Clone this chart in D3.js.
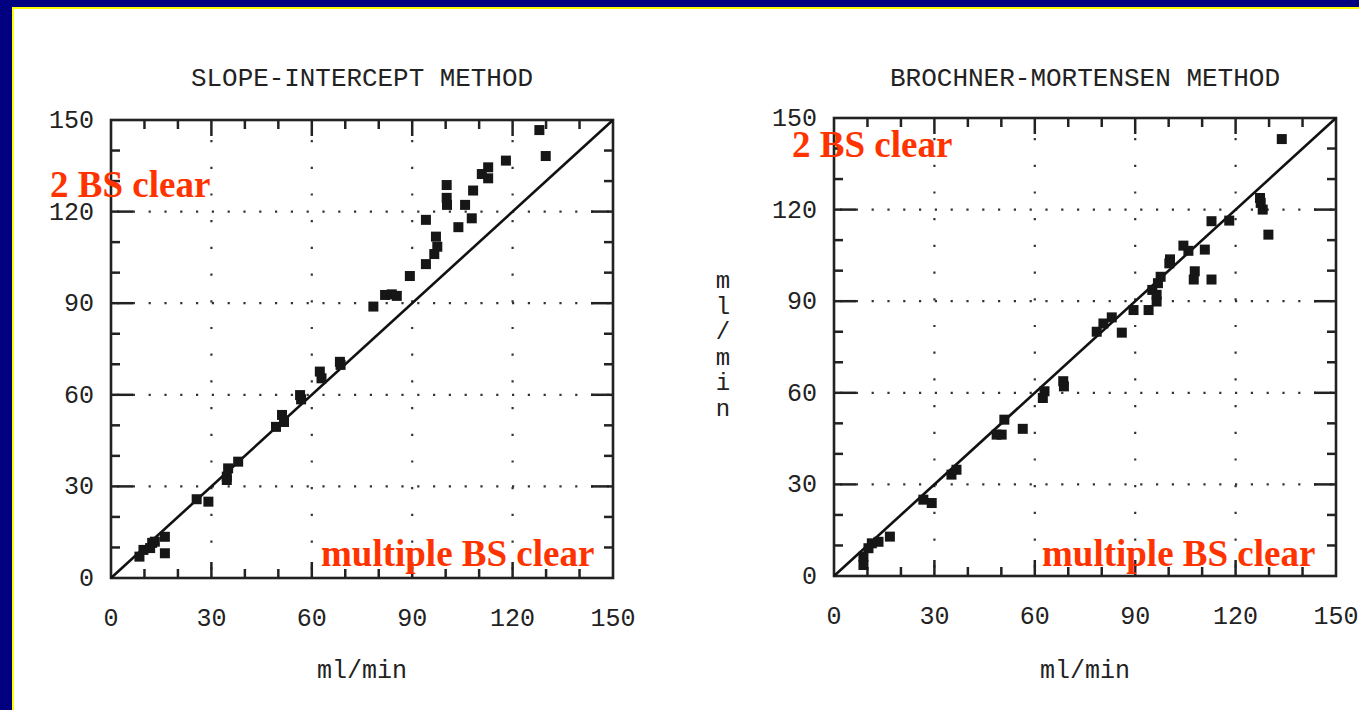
<!DOCTYPE html>
<html>
<head>
<meta charset="utf-8">
<script src="https://cdn.jsdelivr.net/npm/d3@7"></script>
<style>
  html, body { margin: 0; padding: 0; background: #000080; }
  svg { display: block; }
</style>
</head>
<body>
<svg id="chart" width="1359" height="710"></svg>
<script>
// data (x = reference GFR, y = method GFR, ml/min)
const ticks = [0, 30, 60, 90, 120, 150];
const gridVals = [30, 60, 90, 120];

const slopeX = [128.0, 129.9, 118.0, 112.7, 110.8, 112.7, 108.2, 100.3, 100.3, 100.4, 105.8, 107.8,
  103.8, 94.1, 97.1, 97.5, 96.6, 94.1, 89.3, 81.9, 83.9, 85.4, 78.4,
  68.4, 68.6, 62.4, 62.9, 56.5, 56.8, 51.1, 49.3, 51.7, 38.0, 35.0, 34.6, 34.6,
  25.6, 29.1, 16.1, 13.1, 12.3, 16.1, 9.7, 8.5, 11.7];
const slopeY = [146.7, 138.2, 136.7, 134.5, 132.3, 130.9, 126.9, 128.7, 124.5, 122.2, 122.2, 117.8,
  114.9, 117.3, 111.8, 108.5, 106.1, 102.8, 98.9, 92.7, 92.9, 92.4, 88.9,
  70.8, 69.8, 67.6, 65.4, 59.9, 58.5, 53.4, 49.5, 51.1, 38.1, 35.9, 33.2, 32.1,
  25.8, 25.0, 13.5, 11.9, 11.5, 8.1, 9.2, 7.0, 9.8];

const bmX = [133.8, 127.3, 127.5, 128.1, 129.8, 118.1, 112.8, 110.8, 107.8, 107.5, 112.8, 104.4,
  105.9, 100.4, 100.2, 97.6, 96.8, 95.1, 96.4, 96.4, 94.0, 89.5, 86.0, 83.0, 80.5, 78.5,
  68.5, 68.7, 62.9, 62.4, 56.4, 50.9, 50.1, 48.6, 36.6, 35.1, 26.7, 29.2,
  16.7, 13.3, 11.3, 10.3, 8.8, 8.8];
const bmY = [143.1, 123.8, 122.2, 120.0, 111.8, 116.4, 116.2, 106.9, 99.8, 97.1, 97.1, 108.2,
  106.5, 103.7, 102.4, 98.0, 95.9, 93.7, 92.1, 89.9, 87.1, 87.1, 79.7, 84.7, 82.7, 80.0,
  63.8, 62.1, 60.5, 58.3, 48.2, 51.2, 46.3, 46.3, 34.8, 33.2, 25.0, 23.9,
  12.9, 11.2, 10.7, 9.1, 6.3, 3.6];

const svg = d3.select("#chart");
const mono = "'Liberation Mono', 'DejaVu Sans Mono', monospace";
const serif = "'Liberation Serif', 'Times New Roman', serif";
const red = "#ff3300";
const ink = "#222";

// slide frame: navy border with a thin yellow rule, white page
svg.append("rect").attr("width", 1359).attr("height", 710).attr("fill", "#000080");
svg.append("rect")
  .attr("x", 13).attr("y", 8).attr("width", 1400).attr("height", 760)
  .attr("fill", "#fff").attr("stroke", "#ffff00").attr("stroke-width", 2);

function panel(opts) {
  const x = d3.scaleLinear().domain([0, 150]).range([opts.left, opts.right]);
  const y = d3.scaleLinear().domain([0, 150]).range([opts.bottom, opts.top]);
  const g = svg.append("g");

  // dotted grid
  g.selectAll(".hgrid").data(gridVals).join("line")
    .attr("x1", x(0)).attr("x2", x(150))
    .attr("y1", d => y(d)).attr("y2", d => y(d))
    .attr("stroke", "#333").attr("stroke-width", 2.2)
    .attr("stroke-dasharray", "2.2,13.6").attr("stroke-dashoffset", -6);
  g.selectAll(".vgrid").data(gridVals).join("line")
    .attr("x1", d => x(d)).attr("x2", d => x(d))
    .attr("y1", y(150)).attr("y2", y(0))
    .attr("stroke", "#333").attr("stroke-width", 2.2)
    .attr("stroke-dasharray", "2.2,24.5").attr("stroke-dashoffset", -20);

  // ticks on all four sides, pointing inward
  const allTicks = d3.range(10, 150, 10);
  const len = (d, big, small) => (d % 30 === 0 ? big : small);
  const tk = g.append("g").attr("stroke", ink).attr("stroke-width", 2.5);
  tk.selectAll(".tb").data(allTicks).join("line")
    .attr("x1", d => x(d)).attr("x2", d => x(d))
    .attr("y1", y(0)).attr("y2", d => y(0) - len(d, 16, 9));
  tk.selectAll(".tt").data(allTicks).join("line")
    .attr("x1", d => x(d)).attr("x2", d => x(d))
    .attr("y1", y(150)).attr("y2", d => y(150) + len(d, 16, 9));
  tk.selectAll(".tl").data(allTicks).join("line")
    .attr("y1", d => y(d)).attr("y2", d => y(d))
    .attr("x1", x(0)).attr("x2", d => x(0) + len(d, 22, 9));
  tk.selectAll(".tr").data(allTicks).join("line")
    .attr("y1", d => y(d)).attr("y2", d => y(d))
    .attr("x1", x(150)).attr("x2", d => x(150) - len(d, 22, 9));

  // frame
  g.append("rect")
    .attr("x", x(0)).attr("y", y(150))
    .attr("width", x(150) - x(0)).attr("height", y(0) - y(150))
    .attr("fill", "none").attr("stroke", ink).attr("stroke-width", 2.6);

  // line of identity
  g.append("line")
    .attr("x1", x(0)).attr("y1", y(0)).attr("x2", x(150)).attr("y2", y(150))
    .attr("stroke", "#111").attr("stroke-width", 2.6);

  // points
  const pts = opts.xs.map((v, i) => [v, opts.ys[i]]);
  g.selectAll(".pt").data(pts).join("rect")
    .attr("x", d => x(d[0]) - 5).attr("y", d => y(d[1]) - 5)
    .attr("width", 10).attr("height", 10).attr("fill", "#161616");

  // tick labels
  g.selectAll(".xl").data(ticks).join("text")
    .attr("x", d => x(d)).attr("y", y(0) + 48)
    .attr("text-anchor", "middle")
    .attr("font-family", mono).attr("font-size", 25).attr("fill", ink)
    .text(d => d);
  g.selectAll(".yl").data(ticks).join("text")
    .attr("x", x(0) - 17).attr("y", d => y(d) + 8)
    .attr("text-anchor", "end")
    .attr("font-family", mono).attr("font-size", 25).attr("fill", ink)
    .text(d => d);

  // title and axis label
  g.append("text")
    .attr("x", (x(0) + x(150)) / 2).attr("y", 86)
    .attr("text-anchor", "middle")
    .attr("font-family", mono).attr("font-size", 25).attr("fill", ink)
    .attr("textLength", opts.titleW).attr("lengthAdjust", "spacingAndGlyphs")
    .text(opts.title);
  g.append("text")
    .attr("x", (x(0) + x(150)) / 2).attr("y", 678)
    .attr("text-anchor", "middle")
    .attr("font-family", mono).attr("font-size", 25).attr("fill", ink)
    .text("ml/min");

  // red annotations
  g.append("text")
    .attr("x", opts.topNote[0]).attr("y", opts.topNote[1])
    .attr("font-family", serif).attr("font-weight", "bold")
    .attr("font-size", 37).attr("fill", red)
    .text("2 BS clear");
  g.append("text")
    .attr("x", opts.bottomNote[0]).attr("y", opts.bottomNote[1])
    .attr("font-family", serif).attr("font-weight", "bold")
    .attr("font-size", 37).attr("fill", red)
    .text("multiple BS clear");
}

panel({
  left: 111, right: 613, top: 120, bottom: 578,
  title: "SLOPE-INTERCEPT METHOD", titleW: 342,
  xs: slopeX, ys: slopeY,
  topNote: [50, 197], bottomNote: [321, 566]
});

panel({
  left: 834, right: 1336, top: 118, bottom: 576,
  title: "BROCHNER-MORTENSEN METHOD", titleW: 390,
  xs: bmX, ys: bmY,
  topNote: [792, 157], bottomNote: [1042, 566]
});

// stacked y-axis label between the panels
const yLab = "ml/min".split("");
const yPos = d3.scalePoint().domain(d3.range(yLab.length)).range([288, 416]);
svg.selectAll(".ylab").data(yLab).join("text")
  .attr("x", 723).attr("y", (d, i) => yPos(i))
  .attr("text-anchor", "middle")
  .attr("font-family", mono).attr("font-size", 24).attr("fill", ink)
  .text(d => d);
</script>
</body>
</html>
